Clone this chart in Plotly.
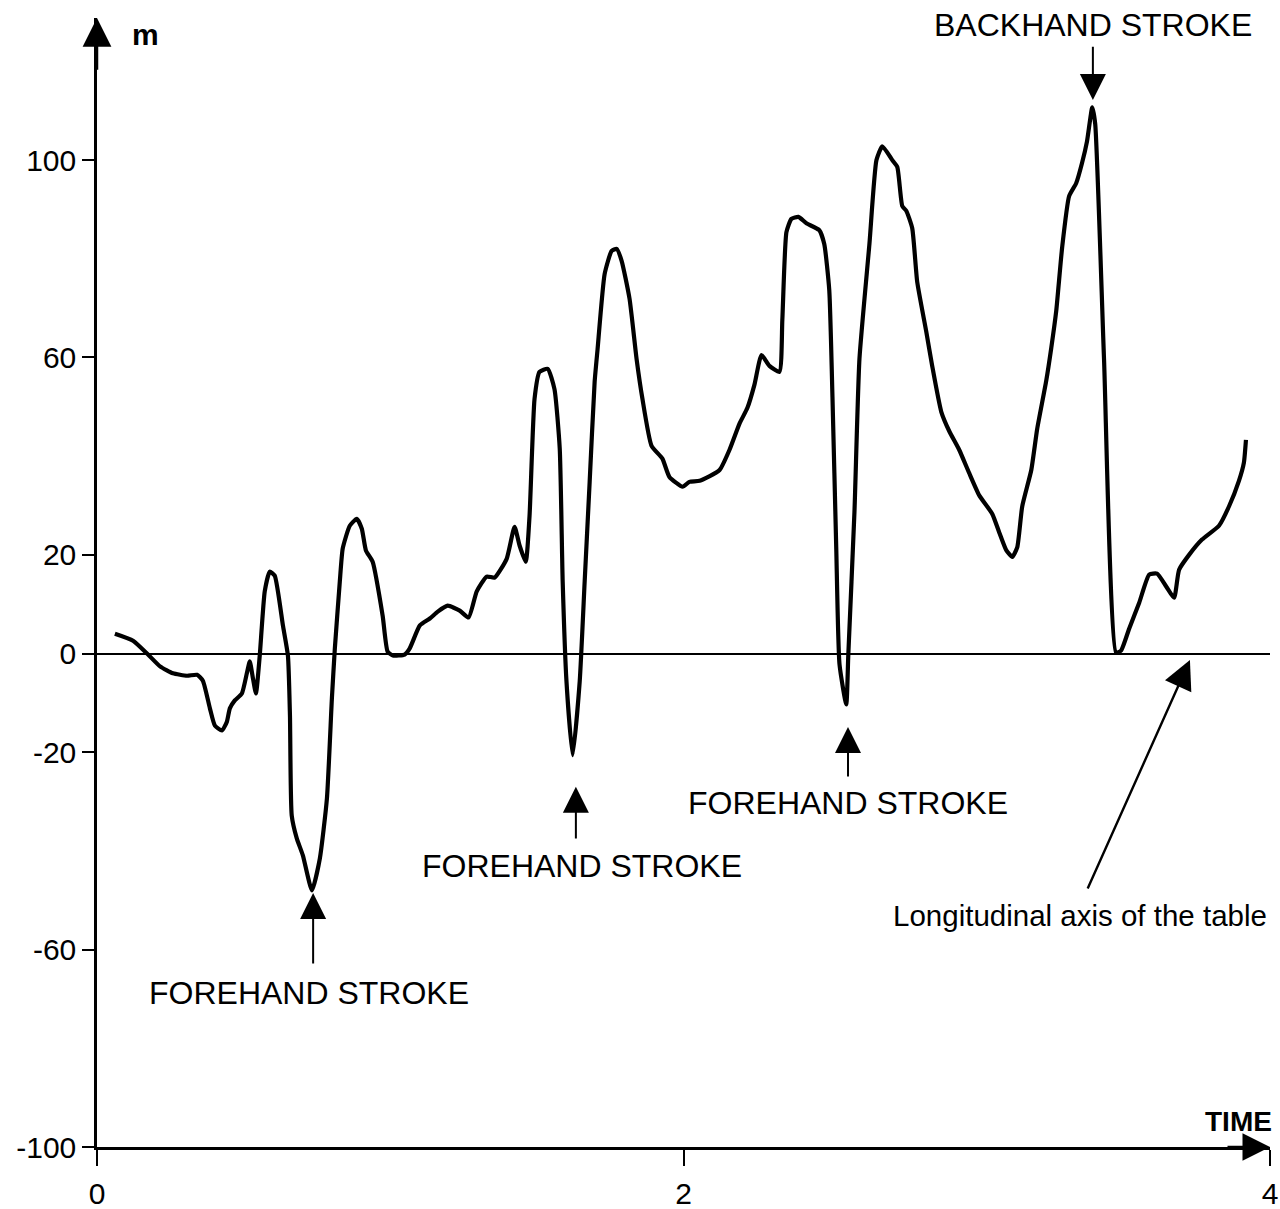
import plotly.graph_objects as go

# ---- data (time in s, m values) ----
time = [0.061, 0.123, 0.174, 0.215, 0.259, 0.307, 0.341, 0.361, 0.385, 0.402,
        0.426, 0.443, 0.453, 0.470, 0.494, 0.511, 0.521, 0.532, 0.542, 0.555,
        0.572, 0.589, 0.606, 0.634, 0.651, 0.658, 0.664, 0.681, 0.702, 0.733,
        0.760, 0.784, 0.801, 0.811, 0.828, 0.838, 0.862, 0.886, 0.903, 0.917,
        0.940, 0.974, 0.991, 1.009, 1.049, 1.066, 1.101, 1.135, 1.162, 1.196,
        1.237, 1.267, 1.295, 1.329, 1.356, 1.397, 1.424, 1.441, 1.462, 1.475,
        1.492, 1.509, 1.537, 1.560, 1.578, 1.588, 1.601, 1.622, 1.646, 1.663,
        1.680, 1.697, 1.707, 1.731, 1.755, 1.772, 1.789, 1.816, 1.840, 1.860,
        1.891, 1.928, 1.952, 1.997, 2.020, 2.055, 2.123, 2.157, 2.191, 2.218,
        2.242, 2.266, 2.293, 2.327, 2.337, 2.351, 2.368, 2.392, 2.419, 2.463,
        2.480, 2.497, 2.508, 2.521, 2.532, 2.555, 2.562, 2.583, 2.600, 2.634,
        2.658, 2.678, 2.712, 2.729, 2.746, 2.760, 2.780, 2.797, 2.828, 2.848,
        2.879, 2.906, 2.940, 2.974, 3.009, 3.053, 3.077, 3.101, 3.121, 3.138,
        3.155, 3.186, 3.206, 3.237, 3.254, 3.271, 3.291, 3.315, 3.339, 3.359,
        3.376, 3.394, 3.404, 3.434, 3.475, 3.492, 3.520, 3.554, 3.588, 3.615,
        3.646, 3.673, 3.690, 3.724, 3.768, 3.826, 3.860, 3.894, 3.911, 3.918]
m_value = [4.0, 2.6, -0.2, -2.6, -4.0, -4.5, -4.3, -5.5, -11.1, -14.6,
           -15.6, -13.8, -11.1, -9.5, -8.1, -4.0, -1.6, -5.1, -8.1, -0.4,
           12.6, 16.6, 15.8, 5.7, -0.4, -12.6, -32.8, -37.4, -40.9, -48.0,
           -41.5, -29.4, -9.1, 1.0, 14.6, 21.3, 25.9, 27.3, 25.3, 20.9,
           18.6, 7.7, 0.4, -0.4, -0.2, 1.0, 5.7, 7.1, 8.5, 9.7,
           8.7, 7.3, 12.6, 15.6, 15.4, 19.2, 25.7, 21.9, 18.6, 27.9,
           51.6, 57.1, 57.7, 53.6, 41.5, 14.6, -5.7, -20.6, -5.7, 14.6,
           34.8, 55.1, 61.7, 76.9, 81.6, 82.0, 79.6, 71.9, 59.7, 51.6,
           42.1, 39.5, 35.8, 33.8, 34.8, 35.0, 37.2, 41.3, 46.6, 49.8,
           54.5, 60.5, 58.3, 57.1, 67.6, 85.4, 88.1, 88.5, 87.2, 85.8,
           83.0, 73.7, 52.0, 21.1, -2.2, -10.3, -0.2, 28.7, 59.7, 83.0,
           100.0, 102.8, 100.0, 98.6, 90.7, 89.7, 86.2, 75.3, 65.2, 58.3,
           49.0, 45.1, 41.3, 36.6, 32.0, 28.3, 24.5, 20.9, 19.6, 21.5,
           29.8, 37.2, 45.5, 55.3, 61.9, 69.4, 82.2, 92.7, 95.3, 99.4,
           103.8, 110.7, 107.3, 59.7, 0.2, 0.6, 5.1, 10.3, 16.0, 16.2,
           13.6, 11.3, 17.0, 20.0, 23.1, 25.9, 29.8, 35.0, 38.7, 43.3]

y_ticks = [100, 60, 20, 0, -20, -60, -100]
y_tick_labels = ["100", "60", "20", "0", "-20", "-60", "-100"]
x_ticks = [0, 2, 4]
x_tick_labels = ["0", "2", "4"]

stroke_labels = ["FOREHAND STROKE", "FOREHAND STROKE", "FOREHAND STROKE", "BACKHAND STROKE"]
stroke_text_x = [0.723, 1.654, 2.561, 3.396]
stroke_text_y = [-68.8, -43.0, -30.3, 127.4]
stroke_arrow_x = [0.737, 1.633, 2.561, 3.396]
stroke_arrow_tip = [-48.5, -27.0, -14.9, 112.2]
stroke_arrow_tail = [-63.1, -37.8, -25.2, 123.3]

FONT = "Liberation Sans, Arial, Helvetica, sans-serif"
Y_TOP = 128.8

fig = go.Figure()
fig.add_trace(go.Scatter(
    x=time, y=m_value, mode="lines",
    line=dict(color="black", width=4.2, shape="spline", smoothing=0.5),
    showlegend=False, hoverinfo="skip"))

annotations = []
for lab, tx, ty, axx, tip, tail in zip(stroke_labels, stroke_text_x, stroke_text_y,
                                        stroke_arrow_x, stroke_arrow_tip, stroke_arrow_tail):
    annotations.append(dict(x=tx, y=ty, xref="x", yref="y", text=lab, showarrow=False,
                            font=dict(family=FONT, size=32, color="black"),
                            xanchor="center", yanchor="middle"))
    annotations.append(dict(x=axx, y=tip, ax=axx, ay=tail, xref="x", yref="y",
                            axref="x", ayref="y", text="", showarrow=True,
                            arrowhead=2, arrowsize=2.6, arrowwidth=2, arrowcolor="black"))

# longitudinal axis label and arrow
annotations.append(dict(x=2.708, y=-53.0, xref="x", yref="y",
                        text="Longitudinal axis of the table", showarrow=False,
                        font=dict(family=FONT, size=29.5, color="black"),
                        xanchor="left", yanchor="middle"))
annotations.append(dict(x=3.727, y=-1.3, ax=3.376, ay=-47.9, xref="x", yref="y",
                        axref="x", ayref="y", text="", showarrow=True,
                        arrowhead=2, arrowsize=2.4, arrowwidth=2.4, arrowcolor="black"))
# axis arrowheads
annotations.append(dict(x=0, y=Y_TOP, ax=0, ay=118, xref="x", yref="y",
                        axref="x", ayref="y", text="", showarrow=True,
                        arrowhead=2, arrowsize=2.3, arrowwidth=2.5, arrowcolor="black"))
annotations.append(dict(x=4.0, y=-100, ax=3.85, ay=-100, xref="x", yref="y",
                        axref="x", ayref="y", text="", showarrow=True,
                        arrowhead=2, arrowsize=2.2, arrowwidth=2.5, arrowcolor="black"))
# axis titles
annotations.append(dict(x=0.113, y=125.4, xref="x", yref="y", text="<b>m</b>",
                        showarrow=False, font=dict(family=FONT, size=30, color="black"),
                        xanchor="left", yanchor="middle"))
annotations.append(dict(x=3.772, y=-94.9, xref="x", yref="y", text="<b>TIME</b>",
                        showarrow=False, font=dict(family=FONT, size=28, color="black"),
                        xanchor="left", yanchor="middle"))

fig.update_layout(
    width=1280, height=1209,
    margin=dict(l=97, r=10, t=18, b=62, autoexpand=False),
    paper_bgcolor="white", plot_bgcolor="white",
    annotations=annotations,
    font=dict(family=FONT, color="black"),
    xaxis=dict(range=[0, 4], tickvals=x_ticks, ticktext=x_tick_labels,
               showgrid=False, zeroline=False, showline=True, linecolor="black",
               linewidth=2.5, ticks="outside", ticklen=16, tickwidth=2,
               tickcolor="black", tickfont=dict(family=FONT, size=30, color="black"),
               ticklabelstandoff=2, automargin=False),
    yaxis=dict(range=[-100, Y_TOP], tickvals=y_ticks, ticktext=y_tick_labels,
               showgrid=False, zeroline=True, zerolinecolor="black", zerolinewidth=2,
               showline=True, linecolor="black", linewidth=2.5,
               ticks="outside", ticklen=12, tickwidth=2, tickcolor="black",
               tickfont=dict(family=FONT, size=30, color="black"),
               ticklabelstandoff=0, automargin=False),
)

fig.write_html("out.html")
